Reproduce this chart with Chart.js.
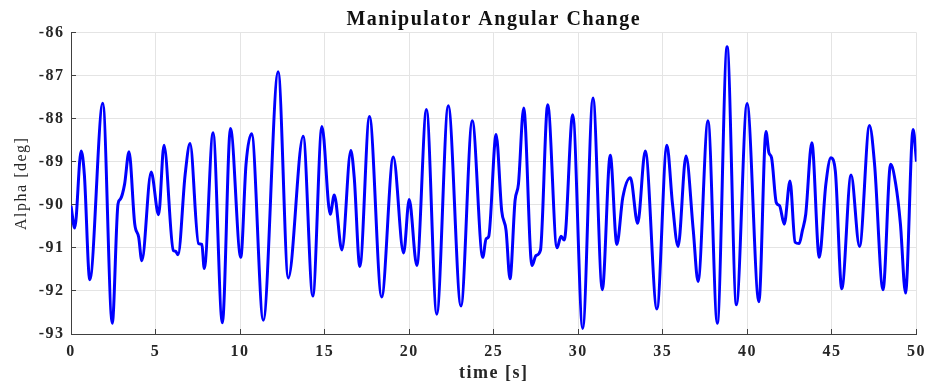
<!DOCTYPE html>
<html>
<head>
<meta charset="utf-8">
<script src="https://cdn.jsdelivr.net/npm/chart.js@4.4.1/dist/chart.umd.min.js"></script>
<style>
  html, body { margin: 0; padding: 0; background: #ffffff; }
  #wrap { position: relative; width: 939px; height: 390px; }
</style>
</head>
<body>
<div id="wrap"><canvas id="c"></canvas></div>
<script>
// ---- data ----
const times = [
  0.00, 0.22, 0.60, 0.79, 1.11, 1.88, 2.44, 2.78, 2.92, 3.17, 3.43, 3.77, 4.00, 4.19, 4.74,
  5.18, 5.50, 6.05, 6.19, 6.33, 6.75, 7.04, 7.54, 7.74, 7.88, 8.40, 8.95, 9.43, 10.04, 10.35,
  10.68, 11.37, 12.25, 12.85, 13.73, 14.30, 14.84, 15.33, 15.57, 16.02, 16.55, 16.75, 17.08, 17.65, 18.37,
  19.06, 19.67, 20.00, 20.45, 21.02, 21.63, 22.31, 23.06, 23.73, 24.35, 24.55, 24.70, 25.14, 25.47, 25.73,
  25.96, 26.26, 26.46, 26.77, 27.26, 27.50, 27.76, 28.19, 28.74, 28.98, 29.17, 29.67, 30.26, 30.87, 31.42,
  31.89, 32.28, 32.63, 33.08, 33.51, 33.96, 34.65, 35.24, 35.57, 35.90, 36.37, 36.80, 37.08, 37.67, 38.22,
  38.80, 39.35, 39.98, 40.68, 41.10, 41.27, 41.43, 41.71, 41.90, 42.18, 42.52, 42.82, 43.06, 43.25, 43.45,
  43.81, 44.25, 44.64, 44.94, 45.20, 45.58, 46.13, 46.63, 47.22, 47.52, 48.02, 48.47, 48.77, 49.05, 49.35,
  49.80, 50.00
];
const alpha = [
  -90.02, -90.54, -88.75, -89.30, -91.74, -87.64, -92.75, -89.98, -89.87, -89.52, -88.77, -90.45, -90.75, -91.30, -89.24,
  -90.23, -88.62, -91.06, -91.08, -91.16, -89.30, -88.58, -90.90, -90.92, -91.48, -88.33, -92.74, -88.23, -91.22, -89.06,
  -88.35, -92.68, -86.91, -91.70, -88.41, -92.12, -88.18, -90.22, -89.77, -91.05, -88.74, -89.37, -91.43, -87.95, -92.14,
  -88.89, -91.12, -89.88, -91.41, -87.79, -92.54, -87.70, -92.35, -88.05, -91.22, -90.79, -90.74, -88.37, -90.14, -90.60,
  -91.72, -89.90, -89.52, -87.75, -91.41, -91.18, -91.06, -87.68, -91.00, -90.73, -90.82, -87.91, -92.87, -87.52, -91.97,
  -88.85, -90.92, -89.83, -89.37, -90.43, -88.75, -92.42, -88.62, -89.98, -90.97, -88.87, -90.60, -91.78, -88.05, -92.75,
  -86.33, -92.32, -87.65, -92.25, -88.30, -88.79, -88.91, -89.95, -90.02, -90.45, -89.45, -90.87, -90.90, -90.60, -90.22,
  -88.56, -91.22, -89.52, -88.91, -89.22, -91.95, -89.31, -90.97, -88.16, -89.06, -91.97, -89.06, -89.52, -90.45, -92.05,
  -88.25, -89.00
];
const xTicks = [0, 5, 10, 15, 20, 25, 30, 35, 40, 45, 50];
const yTicks = [-93, -92, -91, -90, -89, -88, -87, -86];
const titleText = 'Manipulator Angular Change';
const xTitle = 'time [s]';
const yTitle = 'Alpha [deg]';

// ---- chart ----
const points = times.map((t, i) => ({ x: t, y: alpha[i] }));
const serif = "'Liberation Serif', 'Times New Roman', serif";
const axisColor = '#404040';
const gridColor = '#e4e4e4';

const spacing = {
  id: 'spacing',
  beforeUpdate(c) { c.ctx.letterSpacing = '1.5px'; },
  beforeLayout(c) { c.ctx.letterSpacing = '1.5px'; },
  beforeDraw(c) { c.ctx.letterSpacing = '1.5px'; }
};

new Chart(document.getElementById('c'), {
  type: 'line',
  data: {
    datasets: [{
      data: points,
      borderColor: '#0000ff',
      borderWidth: 3,
      pointRadius: 0,
      fill: false,
      cubicInterpolationMode: 'monotone'
    }]
  },
  options: {
    responsive: true,
    maintainAspectRatio: false,
    animation: false,
    events: [],
    layout: { padding: { top: 4.5, right: 19, bottom: 0, left: 0 } },
    plugins: {
      legend: { display: false },
      tooltip: { enabled: false },
      title: {
        display: true,
        fullSize: false,
        text: titleText,
        color: '#111111',
        font: { family: serif, size: 20, weight: 'bold' },
        padding: { top: 3, bottom: 1 }
      }
    },
    scales: {
      x: {
        type: 'linear',
        min: 0, max: 50,
        afterBuildTicks(s) { s.ticks = xTicks.map(v => ({ value: v })); },
        afterFit(s) { s.height = 56; },
        ticks: {
          color: '#262626',
          font: { family: serif, size: 16, weight: 'bold' },
          padding: 13,
          maxRotation: 0
        },
        grid: { color: gridColor, lineWidth: 1, tickLength: -5, tickColor: axisColor, tickWidth: 1 },
        border: { display: true, color: axisColor, width: 1 },
        title: {
          display: true,
          text: xTitle,
          color: '#262626',
          font: { family: serif, size: 18, weight: 'bold' },
          padding: { top: 0, bottom: 6 }
        }
      },
      y: {
        type: 'linear',
        min: -93, max: -86,
        afterBuildTicks(s) { s.ticks = yTicks.map(v => ({ value: v })); },
        afterFit(s) { s.width = 71; },
        ticks: {
          color: '#262626',
          font: { family: serif, size: 16, weight: 'bold' },
          padding: 11.5
        },
        grid: { color: gridColor, lineWidth: 1, tickLength: -5, tickColor: axisColor, tickWidth: 1 },
        border: { display: true, color: axisColor, width: 1 },
        title: {
          display: true,
          text: yTitle,
          color: '#262626',
          font: { family: serif, size: 16, weight: 'normal' },
          padding: { top: 12, bottom: 0 }
        }
      }
    }
  },
  plugins: [spacing]
});
</script>
</body>
</html>
